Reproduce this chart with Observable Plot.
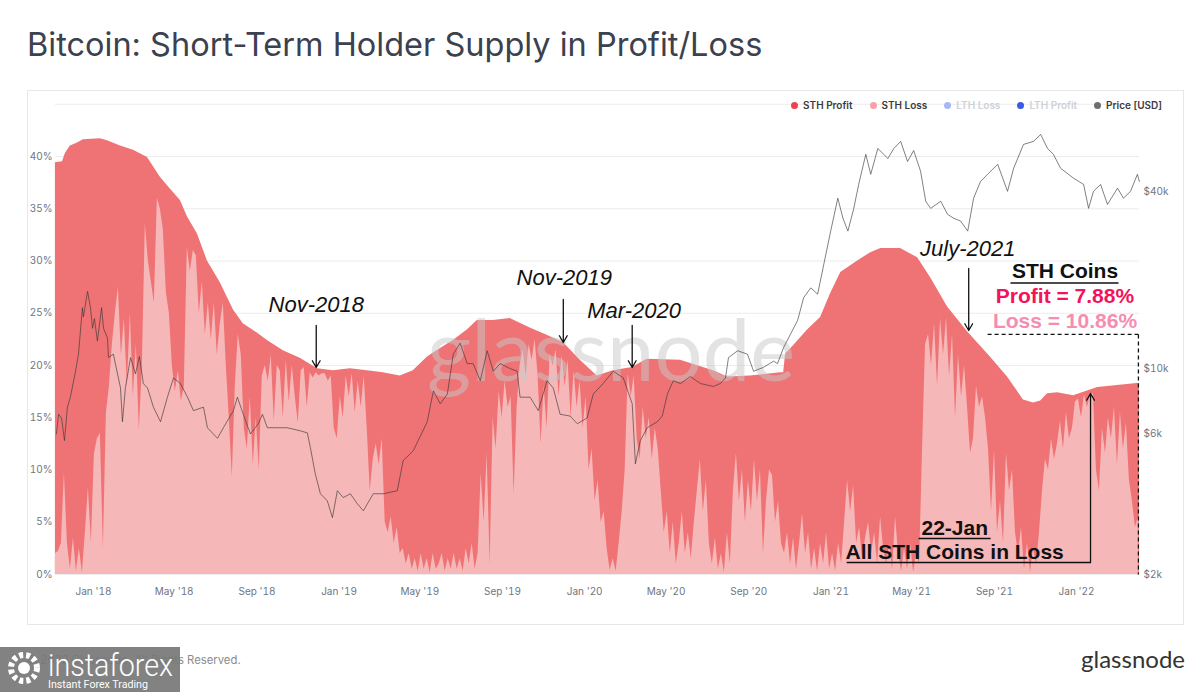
<!DOCTYPE html>
<html>
<head>
<meta charset="utf-8">
<script src="https://cdn.jsdelivr.net/npm/d3@7"></script>
<script src="https://cdn.jsdelivr.net/npm/@observablehq/plot@0.6"></script>
<style>
  html, body { margin:0; padding:0; background:#fff; }
  body { width:1200px; height:692px; position:relative; overflow:hidden; font-family: Inter, "Noto Sans", sans-serif; }
  #title { position:absolute; left:27px; top:29px; font-size:32.5px; line-height:1; color:#3b414e; font-weight:400; white-space:nowrap; }
  #box { position:absolute; left:27px; top:90px; width:1155px; height:533px; border:1px solid #e7e7e7; }
  #box > svg, #box > .layer { position:absolute; left:0; top:0; }
  #wm { position:absolute; font-family: Lato, sans-serif; font-size:85px; line-height:1; color:rgba(200,200,200,0.5); white-space:nowrap; }
  #legend { position:absolute; top:98px; right:38px; height:14px; display:flex; align-items:center; gap:17px; font-size:10px; font-weight:600; color:#3c3c3c; }
  #legend .it { display:flex; align-items:center; gap:5px; }
  #legend .dot { width:7px; height:7px; border-radius:50%; display:inline-block; }
  #foot { position:absolute; left:27px; top:655px; font-size:11.3px; line-height:1; color:#8b8b8b; }
  #logo { position:absolute; right:15px; top:647px; font-family: Lato, sans-serif; font-size:24px; line-height:1; color:#333; }
  #ifx { position:absolute; left:0; top:647px; }
</style>
</head>
<body>
<div id="title">Bitcoin: Short-Term Holder Supply in Profit/Loss</div>
<div id="box"></div>
<div id="legend"></div>
<div id="foot">© 2022 Glassnode. All Rights Reserved.</div>
<div id="logo">glassnode</div>
<svg id="ifx" width="180" height="45">
  <rect width="180" height="45" fill="#777" opacity="0.92"></rect>
  <circle cx="24" cy="21" r="13" fill="none" stroke="#fff" stroke-width="6" stroke-dasharray="4 3"></circle>
  <circle cx="24" cy="21" r="6" fill="#fff"></circle>
  <text x="48" y="29" fill="#fff" font-family="Roboto, sans-serif" font-weight="300" font-size="31" textLength="125" lengthAdjust="spacingAndGlyphs">instaforex</text>
  <text x="48" y="41" fill="#fff" font-family="Roboto, sans-serif" font-size="11" textLength="100" lengthAdjust="spacingAndGlyphs">Instant Forex Trading</text>
</svg>
<script>
// ---------------- data ----------------
// STH supply in profit + loss (top envelope), % of supply
const totalYears = [2017.845,2017.874,2017.886,2017.906,2017.935,2017.959,2018.028,2018.057,2018.110,2018.163,2018.220,2018.273,2018.313,2018.354,2018.383,2018.423,2018.464,2018.517,2018.570,2018.610,2018.667,2018.708,2018.773,2018.842,2018.912,2018.977,2019.046,2019.115,2019.180,2019.249,2019.302,2019.359,2019.384,2019.465,2019.522,2019.563,2019.628,2019.697,2019.778,2019.847,2019.913,2019.982,2020.051,2020.116,2020.193,2020.254,2020.389,2020.523,2020.580,2020.673,2020.796,2020.808,2020.816,2020.848,2020.905,2020.958,2020.999,2021.040,2021.109,2021.162,2021.203,2021.284,2021.353,2021.406,2021.475,2021.557,2021.650,2021.719,2021.784,2021.825,2021.854,2021.882,2021.923,2021.988,2022.086,2022.256];
const totalPct = [39.4,39.5,40.3,41.0,41.3,41.6,41.7,41.5,41.0,40.6,39.9,38.0,36.9,35.8,34.2,32.6,30.0,27.9,25.3,24.0,23.1,22.4,21.4,20.7,19.7,19.5,19.7,19.5,19.3,19.0,19.5,20.8,21.2,22.4,23.4,24.3,24.3,24.5,23.6,22.9,22.2,20.5,19.0,19.5,19.8,20.6,20.5,19.5,18.9,19.0,19.3,19.3,21.1,21.9,23.4,24.6,26.9,28.9,30.0,30.8,31.2,31.2,30.3,28.4,25.6,23.2,20.8,18.9,16.7,16.4,16.6,17.3,17.4,17.1,17.9,18.3];

// STH supply in loss, % of supply, sampled evenly from lossFirstYear to lossLastYear
const lossFirstYear = 2017.845;
const lossLastYear = 2022.252;
const lossPct = [
2.0,2.2,3.0,9.7,3.0,0.5,3.5,0.3,2.5,0.2,4.0,8.3,3.0,11.5,13.0,13.5,2.5,15.4,18.0,22.0,
25.0,27.5,21.0,24.5,18.0,25.0,17.0,22.0,13.8,20.0,33.6,30.0,28.0,26.0,36.0,35.0,33.0,27.0,25.0,20.0,
17.5,19.5,16.6,18.0,31.3,29.0,31.0,30.5,25.0,28.0,23.0,26.0,22.5,26.0,21.0,24.0,
26.0,20.0,15.0,9.3,18.0,23.0,21.0,14.0,12.0,17.0,10.5,15.0,10.0,19.0,20.0,18.5,21.0,14.7,20.0,19.5,
15.0,20.5,16.5,20.0,17.0,14.5,19.5,19.8,16.0,19.3,18.8,19.3,19.0,19.2,19.2,18.5,19.0,14.0,13.0,17.0,
15.0,19.0,17.0,19.2,15.5,18.5,16.0,19.0,14.0,8.0,11.0,12.5,10.5,13.0,5.0,4.0,5.5,3.0,4.5,2.0,
2.5,1.0,2.0,0.5,1.5,0.3,2.0,0.5,1.5,0.2,2.0,0.5,1.0,2.0,0.3,1.5,0.5,2.0,0.5,1.5,
0.3,2.5,1.0,3.0,0.5,2.0,9.7,5.0,11.6,1.0,
15.0,12.0,17.5,15.0,18.5,16.0,17.0,7.7,16.0,20.0,21.5,19.0,22.0,20.5,22.5,19.0,12.5,18.0,14.0,21.0,
20.0,21.5,17.0,21.0,18.0,20.5,15.0,19.5,16.0,18.5,14.0,17.0,10.0,12.0,7.0,9.0,5.0,6.0,2.5,0.4,
1.5,0.3,3.0,6.0,10.0,19.2,17.0,19.0,13.0,11.0,16.0,13.0,15.0,11.0,14.0,12.0,8.0,4.0,6.0,2.0,
5.0,1.0,3.0,6.0,2.0,4.0,1.5,5.0,8.0,11.0,6.0,9.0,3.0,1.0,3.5,0.5,2.0,0.2,4.0,1.0,
8.0,11.6,7.0,10.0,5.0,9.0,6.0,11.0,7.0,10.0,2.0,7.0,10.0,9.5,5.0,7.0,3.0,
2.0,4.0,1.0,3.5,0.5,3.0,5.8,2.0,4.0,0.5,2.5,0.3,3.0,1.0,4.0,0.5,2.0,0.3,3.0,1.0,
5.0,9.0,6.0,8.5,3.0,4.5,1.5,3.5,5.0,2.0,4.0,1.0,5.5,2.5,1.0,3.0,0.5,5.5,2.0,0.3,
2.5,0.5,3.0,0.2,2.0,1.0,12.0,22.0,23.0,20.0,24.0,18.0,24.5,21.0,24.6,19.0,23.0,15.0,21.0,17.0,
20.0,16.0,11.6,13.0,18.0,16.0,17.0,15.0,12.0,6.0,11.9,4.0,7.0,3.0,11.6,8.0,10.0,4.0,2.0,4.5,
0.5,3.0,0.2,2.5,1.0,4.0,8.0,11.0,10.0,13.0,11.0,12.5,14.7,12.0,15.5,13.0,14.0,16.5,16.8,15.0,
17.2,16.0,17.2,17.3,10.0,8.0,14.0,11.6,15.0,13.0,16.0,10.5,15.5,12.0,14.5,9.0,7.0,4.5,5.5
];

// Bitcoin price, thousands of USD
const priceYears = [2017.849,2017.858,2017.870,2017.882,2017.894,2017.906,2017.927,2017.939,2017.955,2017.959,2017.976,2017.988,2017.996,2018.004,2018.016,2018.033,2018.041,2018.057,2018.061,2018.081,2018.110,2018.118,2018.130,2018.151,2018.171,2018.187,2018.203,2018.220,2018.244,2018.273,2018.301,2018.326,2018.354,2018.383,2018.407,2018.448,2018.464,2018.505,2018.529,2018.570,2018.586,2018.610,2018.639,2018.671,2018.688,2018.708,2018.749,2018.789,2018.842,2018.871,2018.883,2018.903,2018.924,2018.952,2018.973,2018.993,2019.017,2019.046,2019.074,2019.099,2019.139,2019.180,2019.237,2019.261,2019.302,2019.359,2019.384,2019.412,2019.441,2019.465,2019.493,2019.522,2019.546,2019.575,2019.603,2019.628,2019.656,2019.697,2019.725,2019.737,2019.778,2019.811,2019.847,2019.872,2019.900,2019.941,2019.970,2020.010,2020.035,2020.075,2020.116,2020.157,2020.193,2020.206,2020.226,2020.254,2020.295,2020.315,2020.336,2020.360,2020.389,2020.429,2020.470,2020.523,2020.551,2020.572,2020.584,2020.621,2020.661,2020.686,2020.726,2020.767,2020.783,2020.808,2020.836,2020.865,2020.889,2020.918,2020.946,2020.971,2020.999,2021.028,2021.049,2021.069,2021.093,2021.113,2021.142,2021.162,2021.191,2021.232,2021.256,2021.284,2021.312,2021.337,2021.365,2021.386,2021.406,2021.447,2021.475,2021.500,2021.528,2021.557,2021.581,2021.609,2021.638,2021.679,2021.719,2021.744,2021.784,2021.825,2021.854,2021.882,2021.906,2021.935,2021.988,2022.029,2022.049,2022.069,2022.098,2022.126,2022.167,2022.191,2022.220,2022.248,2022.256];
const priceK = [6.0,7.0,6.8,5.7,7.4,8.0,9.8,11.2,16.1,15.0,18.3,16.1,13.7,14.8,12.4,16.1,13.7,12.7,10.9,11.2,8.6,6.6,8.6,10.9,9.6,11.0,8.9,8.6,7.4,6.6,8.0,9.3,8.9,8.0,7.2,7.4,6.3,5.8,6.3,7.2,8.0,7.0,6.0,6.5,7.0,6.3,6.3,6.3,6.15,6.05,5.4,4.4,3.76,3.56,3.12,3.85,3.65,3.76,3.48,3.29,3.76,3.76,3.85,4.87,5.26,6.6,8.4,7.6,8.2,11.2,12.2,10.4,10.4,9.1,11.5,9.8,10.4,10.0,9.8,8.0,8.0,7.2,9.1,8.6,7.0,6.9,6.5,6.8,8.2,8.9,9.8,9.3,7.6,4.75,5.7,6.3,6.6,6.9,8.2,9.1,8.9,9.4,8.9,8.7,8.9,9.3,10.9,11.5,11.2,9.8,10.1,10.6,10.4,11.8,13.1,14.6,17.4,18.8,17.9,22.6,29.3,37.9,32.4,29.3,35.0,42.2,53.4,45.7,55.9,51.7,55.9,59.1,50.5,55.0,46.8,37.0,35.0,37.0,33.4,32.4,31.7,29.3,37.9,43.2,45.7,49.4,40.0,47.9,57.7,59.1,62.4,55.9,53.4,47.9,44.3,42.2,35.0,40.0,42.2,36.1,41.0,37.9,40.0,45.7,43.2];

// axes
const viewYears = [2017.8454, 2022.2564];
const xTickDates = ["2018-01-01","2018-05-01","2018-09-01","2019-01-01","2019-05-01","2019-09-01","2020-01-01","2020-05-01","2020-09-01","2021-01-01","2021-05-01","2021-09-01","2022-01-01"];
const pctDomain = [0, 45];
const pctTicks = [0,5,10,15,20,25,30,35,40];
const pctGrid = [0,5,10,15,20,25,30,35,40,45];
const priceDomain = [2000, 79000];
const priceTicks = [2000, 6000, 10000, 40000];

// legend
const legendNames = ["STH Profit","STH Loss","LTH Loss","LTH Profit","Price [USD]"];
const legendColors = ["#f0414a","#f4a3a8","#a8b8f6","#3a5be6","#6e6e6e"];
const legendOn = [true,true,false,false,true];

// annotations (date in decimal years, level in % of supply)
const noteLabels = ["Nov-2018","Nov-2019","Mar-2020","July-2021"];
const noteYears = [2018.907, 2019.917, 2020.201, 2021.557];
const noteLevels = [25.84, 28.33, 25.26, 31.20];
const noteArrowYears = [2018.907, 2019.913, 2020.193, 2021.561];
const noteArrowFrom = [23.83, 26.32, 23.83, 29.28];
const noteArrowTo = [19.81, 22.20, 19.81, 23.35];

const boxLabels = ["STH Coins","Profit = 7.88%","Loss = 10.86%"];
const boxYear = 2021.953;
const boxLevels = [28.99, 26.60, 24.21];
const boxColors = ["#111111","#f2135b","#f78cb1"];
const boxUnderline = {y1: 2021.731, y2: 2022.171, level: 27.9};
const dashLevel = 22.97, dashStartYear = 2021.638, dashEndYear = 2022.252;

const janLabels = ["22-Jan","All STH Coins in Loss"];
const janYear = 2021.504;
const janLevels = [4.40, 2.11];
const janUnder1 = {y1: 2021.357, y2: 2021.650, level: 3.44};
const janUnder2 = {y1: 2021.064, y2: 2022.057, level: 1.15};
const janArrowTop = 17.32;

// ---------------- build ----------------
function yearToDate(t){ const y = Math.floor(t); const a = Date.UTC(y,0,1), b = Date.UTC(y+1,0,1); return new Date(a + (t - y) * (b - a)); }

const totalData = totalYears.map((t,i) => ({date: yearToDate(t), v: totalPct[i]}));
const lossData = lossPct.map((v,i) => ({date: yearToDate(lossFirstYear + i * (lossLastYear - lossFirstYear) / (lossPct.length - 1)), v}));
const priceData = priceYears.map((t,i) => ({date: yearToDate(t), price: priceK[i] * 1000}));

const common = {width:1155, height:533, marginLeft:27, marginRight:44, marginTop:12.75, marginBottom:50};
const xDomain = viewYears.map(yearToDate);
const axisStyle = {background:"transparent", fontFamily:"Inter, sans-serif", fontSize:"10px", color:"#70757f", overflow:"visible"};

const plotA = Plot.plot({
  ...common,
  style: axisStyle,
  x: {type:"utc", domain:xDomain, ticks: xTickDates.map(s => new Date(s)), tickFormat: d3.utcFormat("%b '%y"), tickSize:0, tickPadding:13, label:null},
  y: {domain:pctDomain, ticks:pctTicks, tickFormat: d => d + "%", tickSize:0, tickPadding:3, label:null},
  marks: [
    Plot.ruleY(pctGrid, {stroke:"#ececec", strokeWidth:1}),
    Plot.areaY(totalData, {x:"date", y:"v", fill:"#ef7374"}),
    Plot.areaY(lossData, {x:"date", y:"v", fill:"#f6b7b8"})
  ]
});

const plotB = Plot.plot({
  ...common,
  style: axisStyle,
  x: {type:"utc", domain:xDomain, axis:null},
  y: {type:"log", domain:priceDomain, axis:"right", ticks:priceTicks, tickFormat: d => "$" + (d/1000) + "k", tickSize:0, tickPadding:4, label:null},
  marks: [
    Plot.lineY(priceData, {x:"date", y:"price", stroke:"#333", strokeWidth:1, strokeOpacity:0.62})
  ]
});

const notes = noteLabels.map((s,i) => ({label:s, date: yearToDate(noteYears[i]), y: noteLevels[i], adate: yearToDate(noteArrowYears[i]), from: noteArrowFrom[i], to: noteArrowTo[i]}));
const boxTexts = boxLabels.map((s,i) => ({label:s, date: yearToDate(boxYear), y: boxLevels[i], color: boxColors[i]}));
const janTexts = janLabels.map((s,i) => ({label:s, date: yearToDate(janYear), y: janLevels[i]}));
const underlines = [boxUnderline, janUnder1, janUnder2].map(u => ({x1: yearToDate(u.y1), x2: yearToDate(u.y2), y: u.level}));
const dashes = [
  {x1: yearToDate(dashStartYear), x2: yearToDate(dashEndYear), y1: dashLevel, y2: dashLevel},
  {x1: yearToDate(dashEndYear), x2: yearToDate(dashEndYear), y1: dashLevel, y2: 0}
];
const janArrow = [{x: yearToDate(janUnder2.y2), y1: janUnder2.level, y2: janArrowTop}];
const boldFont = "'Liberation Sans', Arial, sans-serif";

const plotC = Plot.plot({
  ...common,
  style: {background:"transparent", overflow:"visible"},
  x: {type:"utc", domain:xDomain, axis:null},
  y: {domain:pctDomain, axis:null},
  color: {type:"identity"},
  marks: [
    Plot.text(notes, {x:"date", y:"y", text:"label", fontFamily: boldFont, fontStyle:"italic", fontSize:22, fill:"#111", lineAnchor:"middle"}),
    Plot.arrow(notes, {x1:"adate", x2:"adate", y1:"from", y2:"to", stroke:"#111", strokeWidth:1.3, headLength:9}),
    Plot.text(boxTexts, {x:"date", y:"y", text:"label", fill:"color", fontFamily: boldFont, fontWeight:"bold", fontSize:21, lineAnchor:"middle"}),
    Plot.text(janTexts, {x:"date", y:"y", text:"label", fill:"#111", fontFamily: boldFont, fontWeight:"bold", fontSize:21, lineAnchor:"middle"}),
    Plot.link(underlines, {x1:"x1", x2:"x2", y1:"y", y2:"y", stroke:"#111", strokeWidth:1.6}),
    Plot.link(dashes, {x1:"x1", x2:"x2", y1:"y1", y2:"y2", stroke:"#111", strokeWidth:1.3, strokeDasharray:"4,3"}),
    Plot.arrow(janArrow, {x1:"x", x2:"x", y1:"y1", y2:"y2", stroke:"#111", strokeWidth:1.3, headLength:9})
  ]
});

const box = document.getElementById("box");
box.appendChild(plotA);
const wm = document.createElement("div");
wm.id = "wm"; wm.className = "layer"; wm.textContent = "glassnode";
wm.style.left = "399px"; wm.style.top = "215px";
box.appendChild(wm);
box.appendChild(plotB);
box.appendChild(plotC);

const legend = document.getElementById("legend");
legendNames.forEach((n,i) => {
  const it = document.createElement("span");
  it.className = "it";
  const dot = document.createElement("span");
  dot.className = "dot"; dot.style.background = legendColors[i];
  const tx = document.createElement("span");
  tx.textContent = n; tx.style.color = legendOn[i] ? "#3c3c3c" : "#cdd1d9";
  it.appendChild(dot); it.appendChild(tx);
  legend.appendChild(it);
});
</script>
</body>
</html>
